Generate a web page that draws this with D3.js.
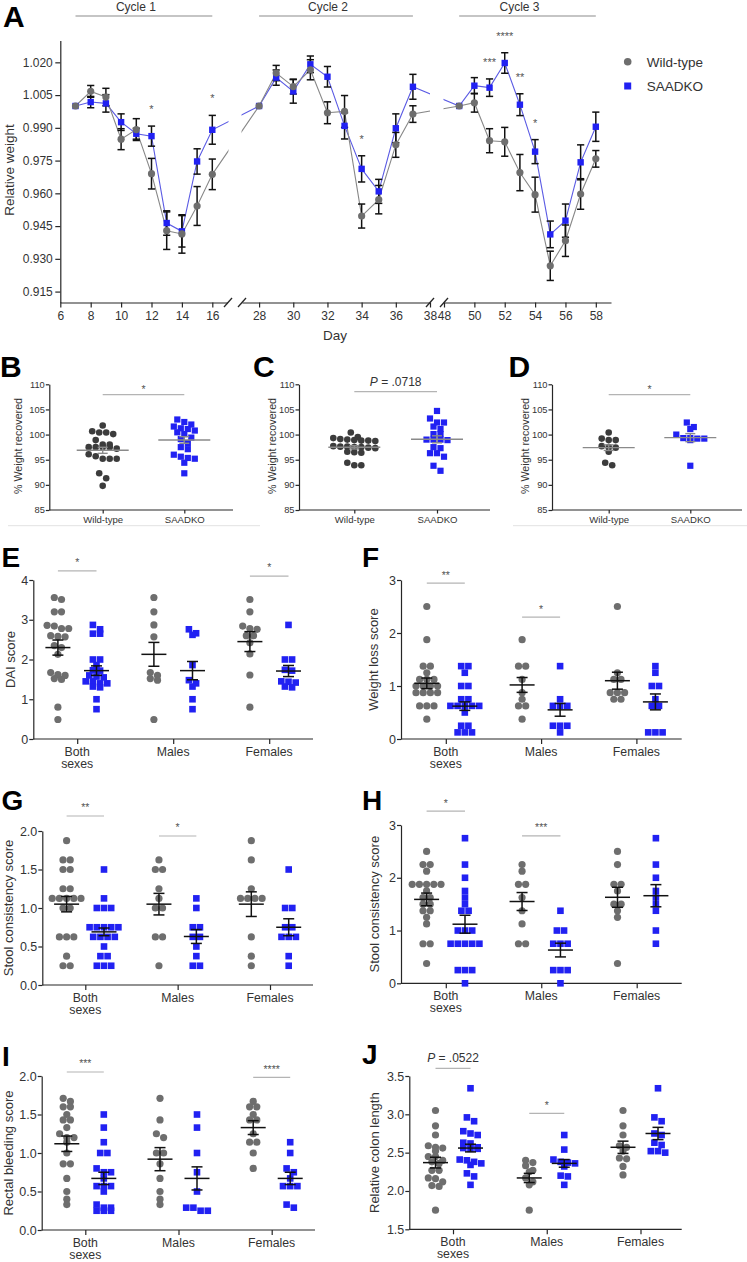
<!DOCTYPE html>
<html><head><meta charset="utf-8">
<script src="https://cdn.jsdelivr.net/npm/d3@7"></script>
<style>
body{margin:0;background:#fff;}
svg{display:block;font-family:"Liberation Sans",Arial,Helvetica,sans-serif;}
</style></head><body>
<svg id="fig" width="747" height="1262"></svg>
<script>
// ================= DATA =================
const groups = ["Wild-type", "SAADKO"];
const sexCategories = ["Both sexes", "Males", "Females"];

// ---- Panel A ----
const daysA = [7,8,9,10,11,12,13,14,15,16, 28,29,30,31,32,33,34,35,36,37, 49,50,51,52,53,54,55,56,57,58];
const wtMeanA = [1.000,1.0067,1.0041,0.9848,0.9892,0.9690,0.9429,0.9414,0.9542,0.9687,
                 1.000,1.0151,1.0089,1.0166,0.9969,0.9975,0.9496,0.9571,0.9822,0.9963,
                 1.000,1.0015,0.9841,0.9836,0.9695,0.9594,0.9268,0.9383,0.9597,0.9758];
const wtSemA  = [0,0.0027,0.0040,0.0048,0.0050,0.0070,0.0086,0.0088,0.0089,0.0070,
                 0,0.0035,0.0034,0.0046,0.0050,0.0073,0.0055,0.0065,0.0057,0.0038,
                 0,0.0043,0.0055,0.0066,0.0083,0.0080,0.0067,0.0072,0.0070,0.0038];
const koMeanA = [1.000,1.0018,1.0012,0.9926,0.9873,0.9862,0.9464,0.9426,0.9746,0.9891,
                 1.000,1.0130,1.0067,1.0191,1.0134,0.9909,0.9712,0.9609,0.9898,1.0088,
                 1.000,1.0093,1.0084,1.0197,1.0006,0.9791,0.9412,0.9475,0.9742,0.9905];
const koSemA  = [0,0.0026,0.0040,0.0038,0.0025,0.0046,0.0056,0.0072,0.0058,0.0066,
                 0,0.0035,0.0054,0.0038,0.0047,0.0060,0.0060,0.0055,0.0066,0.0057,
                 0,0.0037,0.0040,0.0047,0.0050,0.0055,0.0061,0.0076,0.0080,0.0067];
const yTicksA = [0.915,0.930,0.945,0.960,0.975,0.990,1.005,1.020];
const xTicksA1 = [6,8,10,12,14,16];
const xTicksA2 = [28,30,32,34,36,38];
const xTicksA3 = [48,50,52,54,56,58];
const cycleLabels = ["Cycle 1","Cycle 2","Cycle 3"];
const cycleStart = [7,28,49];
const cycleEnd = [16,37,58];
const starDaysA = [12,16,34,51,52,53,54];
const starLabelsA = ["*","*","*","***","****","**","*"];

// ---- Panels B, C, D (% weight recovered) ----
const recTicks = [85,90,95,100,105,110];
const wtB = [101.8,100.65,100.4,100.4,100.1,98.9,98.0,97.5,97.5,97.2,97.5,97.5,98.0,96.1,95.2,95.2,95.2,95.7,92.3,91.3,89.8];
const koB = [103.0,102.5,102.0,101.6,101.25,101.1,100.8,100.45,100.1,99.4,99.1,98.3,97.5,97.1,96.0,95.6,95.35,95.2,94.4,92.3];
const wtC = [100.4,99.5,99.3,99.1,98.9,98.8,98.7,98.8,99.0,97.7,97.6,97.5,97.4,97.3,97.5,97.6,96.6,96.5,96.4,94.4,93.9,93.9];
const koC = [104.7,103.2,102.4,102.4,101.6,101.1,100.1,100.1,99.0,99.0,98.9,99.0,97.5,97.3,96.3,96.3,95.6,93.8,92.8];
const wtD = [100.4,99.2,98.9,98.9,97.7,97.5,96.6,97.4,94.4,93.9];
const koD = [102.4,101.5,101.1,100.0,99.3,99.2,98.9,99.2,99.3,93.8];
const recMeanB = [96.87, 98.93], recSemB = [0.60, 0.66];
const recMeanC = [97.47, 99.06], recSemC = [0.33, 0.70];
const recMeanD = [97.40, 99.39], recSemD = [0.56, 0.80];
const recSigLabels = ["*", "P = .0718", "*"];
const recSigLevels = [107.93, 108.53, 107.93];

// ---- Panel E: DAI score ----
const daiWT = [
  [3.56,3.51,3.20,3.20,2.86,2.78,2.78,2.84,2.60,2.57,2.58,2.35,2.30,2.13,1.67,1.62,1.60,1.50,1.52,0.80,0.49],
  [3.56,3.20,2.87,2.57,1.67,1.52,1.48,1.60,0.49],
  [3.51,3.20,2.84,2.78,2.76,2.60,2.60,2.42,2.14,1.61,0.80]];
const daiKO = [
  [2.87,2.76,2.65,2.65,2.00,2.00,1.86,1.73,1.72,1.60,1.57,1.55,1.45,1.40,1.40,1.45,1.32,1.30,1.00,0.75],
  [2.76,2.62,2.66,1.86,1.40,1.32,1.48,1.00,0.75],
  [2.87,2.00,2.00,1.72,1.74,1.45,1.42,1.44,1.32,1.30]];
const daiMeanWT = [2.30,2.13,2.45], daiSemWT = [0.19,0.30,0.25];
const daiMeanKO = [1.72,1.72,1.71], daiSemKO = [0.12,0.23,0.14];
const daiSigCats = ["Both sexes","Females"], daiSigLabels = ["*","*"], daiSigLevels = [4.23,4.10];

// ---- Panel F: Weight loss score ----
const wlWT = [
  [2.5,1.875,1.375,1.375,1.25,1.125,1.125,1.125,1.0,1.0,1.0,1.0,0.875,0.875,0.875,0.875,0.625,0.625,0.625,0.375],
  [1.875,1.375,1.375,1.125,0.875,0.75,0.625,0.625,0.375],
  [2.5,1.25,1.125,1.125,0.875,0.875,0.875,0.75,0.75]];
const wlKO = [
  [1.375,1.375,1.25,1.0,1.0,0.75,0.75,0.625,0.625,0.625,0.625,0.625,0.5,0.25,0.25,0.125,0.125,0.125],
  [1.375,0.75,0.625,0.625,0.625,0.25,0.25,0.25,0.125],
  [1.375,1.25,1.0,1.0,0.75,0.625,0.625,0.125,0.125,0.125]];
const wlMeanWT = [1.05,1.02,1.10], wlSemWT = [0.10,0.14,0.16];
const wlMeanKO = [0.62,0.55,0.70], wlSemKO = [0.08,0.12,0.15];
const wlSigCats = ["Both sexes","Males"], wlSigLabels = ["**","*"], wlSigLevels = [2.94,2.30];

// ---- Panel G: Stool consistency score ----
const scgWT = [
  [1.875,1.625,1.625,1.5,1.5,1.25,1.25,1.125,1.125,1.125,1.125,1.125,1.0,1.0,0.625,0.625,0.625,0.375,0.25,0.25],
  [1.625,1.5,1.5,1.25,1.125,1.0,1.0,0.625,0.625,0.25],
  [1.875,1.625,1.25,1.125,1.125,1.125,1.125,0.625,0.375,0.25]];
const scgKO = [
  [1.5,1.125,1.0,1.0,1.0,0.75,0.75,0.75,0.75,0.75,0.625,0.625,0.625,0.625,0.5,0.375,0.375,0.25,0.25,0.25],
  [1.125,1.0,0.75,0.75,0.625,0.625,0.5,0.375,0.25,0.25],
  [1.5,1.0,1.0,0.75,0.75,0.625,0.625,0.625,0.375,0.25]];
const scgMeanWT = [1.05,1.05,1.05], scgSemWT = [0.10,0.14,0.16];
const scgMeanKO = [0.69,0.63,0.75], scgSemKO = [0.05,0.09,0.11];
const scgSigCats = ["Both sexes","Males"], scgSigLabels = ["**","*"], scgSigLevels = [2.195,1.935];

// ---- Panel H: Stool consistency score ----
const schWT = [
  [2.5,2.25,2.25,2.125,1.875,1.875,1.875,1.875,1.875,1.75,1.625,1.625,1.5,1.5,1.375,1.375,1.25,1.125,0.75,0.75,0.375],
  [2.25,2.125,1.875,1.875,1.625,1.375,1.125,0.75,0.75],
  [2.5,2.25,1.875,1.875,1.75,1.5,1.5,1.375,1.25,0.375]];
const schKO = [
  [2.75,2.25,2.0,1.75,1.625,1.5,1.375,1.375,1.0,1.0,1.0,0.75,0.75,0.75,0.75,0.75,0.25,0.25,0.25,0.0],
  [1.375,1.0,1.0,0.75,0.75,0.75,0.25,0.25,0.25,0.0],
  [2.75,2.25,2.0,1.75,1.625,1.5,1.375,1.0,0.75]];
const schMeanWT = [1.59,1.55,1.63], schSemWT = [0.12,0.17,0.19];
const schMeanKO = [1.12,0.63,1.66], schSemKO = [0.17,0.13,0.21];
const schSigCats = ["Both sexes","Males"], schSigLabels = ["*","***"], schSigLevels = [3.263,2.795];

// ---- Panel I: Rectal bleeding score ----
const rbWT = [
  [1.71,1.67,1.60,1.60,1.50,1.43,1.43,1.33,1.25,1.20,1.14,1.00,0.86,0.86,0.67,0.50,0.40,0.33,1.20],
  [1.71,1.43,1.25,1.20,1.00,1.00,0.86,0.67,0.50,0.40,0.33],
  [1.67,1.60,1.60,1.50,1.43,1.43,1.25,1.14,1.14,1.00,0.80]];
const rbKO = [
  [1.50,1.33,1.14,1.00,1.00,0.80,0.75,0.75,0.67,0.57,0.57,0.57,0.50,0.33,0.29,0.29,0.25,0.25,0.25],
  [1.50,1.33,1.00,0.75,0.50,0.29,0.25,0.25,0.29],
  [1.14,1.00,0.80,0.75,0.67,0.57,0.57,0.57,0.33,0.29]];
const rbMeanWT = [1.12,0.92,1.33], rbSemWT = [0.10,0.15,0.09];
const rbMeanKO = [0.67,0.67,0.67], rbSemKO = [0.08,0.15,0.08];
const rbSigCats = ["Both sexes","Females"], rbSigLabels = ["***","****"], rbSigLevels = [2.052,1.983];

// ---- Panel J: Relative colon length ----
const clWT = [
  [3.05,2.85,2.73,2.59,2.57,2.56,2.52,2.45,2.45,2.40,2.38,2.36,2.27,2.27,2.17,2.16,2.12,2.07,2.06,1.75],
  [2.37,2.33,2.40,2.27,2.25,2.17,2.12,2.08,1.75],
  [3.05,2.85,2.73,2.59,2.57,2.52,2.43,2.42,2.32,2.21]];
const clKO = [
  [3.34,2.96,2.91,2.78,2.75,2.73,2.63,2.62,2.57,2.56,2.55,2.55,2.41,2.40,2.36,2.34,2.38,2.23,2.19,2.08],
  [2.73,2.54,2.41,2.38,2.37,2.36,2.32,2.19,2.20,2.08],
  [3.34,2.96,2.91,2.75,2.73,2.63,2.60,2.52,2.50,2.52]];
const clMeanWT = [2.37,2.17,2.57], clSemWT = [0.07,0.06,0.08];
const clMeanKO = [2.56,2.36,2.75], clSemKO = [0.05,0.05,0.08];
const clSigCats = ["Both sexes","Males"], clSigLabels = ["P = .0522","*"], clSigLevels = [3.60,3.013];

// ================= DRAWING =================
const svg = d3.select("#fig");
const BLUE = "#2121f2", BLUE_LINE = "#5b5be4";
const GRAY_PT = "#6e6e6e", GRAY_LINE = "#888888", DARK_PT = "#3c3c3c";
const AXIS = "#262626", TXT = "#333333", SIG = "#b4b4b4", STAR = "#555555";

function styleAxis(sel, fs) {
  sel.attr("font-family", null).attr("font-size", null);
  sel.selectAll(".domain, .tick line").attr("stroke", AXIS).attr("stroke-width", 1.2);
  sel.selectAll(".tick text").attr("fill", TXT).attr("font-size", fs);
}
function letter(t, x, y, fs) {
  svg.append("text").attr("x", x).attr("y", y).attr("font-size", fs)
    .attr("font-weight", "bold").attr("fill", "#000").text(t);
}
function yTitle(t, x, y, fs) {
  svg.append("text").attr("transform", `translate(${x},${y}) rotate(-90)`)
    .attr("text-anchor", "middle").attr("font-size", fs).attr("fill", TXT).text(t);
}
function sigText(g, label, x, y, fs) {
  const t = g.append("text").attr("x", x).attr("y", y).attr("text-anchor", "middle").attr("fill", STAR);
  if (label.startsWith("P")) {
    t.attr("font-size", fs + 1.5).attr("fill", TXT);
    t.append("tspan").attr("font-style", "italic").text("P");
    t.append("tspan").text(label.slice(1));
  } else {
    t.attr("font-size", fs).text(label);
  }
}
// GraphPad-like scatter layout: points of similar value share a centred row
function layoutDots(values, yScale, cx, spacing, tol) {
  const pts = values.map(v => ({v, y: yScale(v)})).sort((a, b) => a.y - b.y);
  const rows = [];
  let cur = null;
  pts.forEach(p => {
    if (cur && p.y - cur[0].y < tol) cur.push(p); else { cur = [p]; rows.push(cur); }
  });
  rows.forEach(r => r.forEach((p, i) => { p.x = cx + (i - (r.length - 1) / 2) * spacing; }));
  return pts;
}
function drawDots(g, pts, kind, color, r) {
  if (kind === "circle") {
    g.selectAll(null).data(pts).join("circle").attr("cx", d => d.x).attr("cy", d => d.y)
      .attr("r", r).attr("fill", color);
  } else {
    g.selectAll(null).data(pts).join("rect").attr("x", d => d.x - r).attr("y", d => d.y - r)
      .attr("width", 2 * r).attr("height", 2 * r).attr("fill", color);
  }
}
function meanSem(g, cx, y, m, s, half, cap, color, w) {
  g.append("line").attr("x1", cx - half).attr("x2", cx + half).attr("y1", y(m)).attr("y2", y(m))
    .attr("stroke", color).attr("stroke-width", w);
  g.append("line").attr("x1", cx).attr("x2", cx).attr("y1", y(m - s)).attr("y2", y(m + s))
    .attr("stroke", color).attr("stroke-width", w);
  [m - s, m + s].forEach(v => g.append("line").attr("x1", cx - cap).attr("x2", cx + cap)
    .attr("y1", y(v)).attr("y2", y(v)).attr("stroke", color).attr("stroke-width", w));
}

// ---------- Panel A ----------
(function () {
  const g = svg.append("g");
  const y = d3.scaleLinear().domain([0.91, 1.03]).range([302.5, 40.5]);
  const segs = [
    {dom: [6, 17], rng: [60.3, 227.5], ticks: xTicksA1},
    {dom: [27, 38], rng: [242, 430], ticks: xTicksA2},
    {dom: [48, 59], rng: [444, 611], ticks: xTicksA3}];
  const xs = segs.map(s => d3.scaleLinear().domain(s.dom).range(s.rng));
  const x = d => d <= 17 ? xs[0](d) : (d <= 38 ? xs[1](d) : xs[2](d));

  letter("A", 3, 27, 30);

  g.append("g").attr("transform", "translate(60.3,0)")
    .call(d3.axisLeft(y).tickValues(yTicksA).tickFormat(d3.format(".3f")).tickSize(5).tickSizeOuter(0).tickPadding(2.5))
    .call(styleAxis, 12);
  segs.forEach((s, i) => {
    g.append("g").attr("transform", "translate(0,302.5)")
      .call(d3.axisBottom(xs[i]).tickValues(s.ticks).tickFormat(d3.format("d")).tickSize(5).tickSizeOuter(0).tickPadding(3.5))
      .call(styleAxis, 12);
  });
  [228, 242, 430, 444].forEach(bx => g.append("line")
    .attr("x1", bx - 4).attr("y1", 307).attr("x2", bx + 4).attr("y2", 298)
    .attr("stroke", AXIS).attr("stroke-width", 1.3));

  yTitle("Relative weight", 14, 170, 13.5);
  svg.append("text").attr("x", 335).attr("y", 340).attr("text-anchor", "middle")
    .attr("font-size", 13.5).attr("fill", TXT).text("Day");

  cycleLabels.forEach((c, i) => {
    const x1 = x(cycleStart[i]), x2 = x(cycleEnd[i]);
    g.append("line").attr("x1", x1).attr("x2", x2).attr("y1", 16).attr("y2", 16)
      .attr("stroke", "#8c8c8c").attr("stroke-width", 1.1);
    g.append("text").attr("x", (x1 + x2) / 2 - 8).attr("y", 10.5).attr("text-anchor", "middle")
      .attr("font-size", 12).attr("fill", TXT).text(c);
  });

  const clip = svg.append("defs").append("clipPath").attr("id", "gapclip");
  [[0, 228.5], [241.5, 430], [443.5, 747]].forEach(([a, b]) =>
    clip.append("rect").attr("x", a).attr("y", 0).attr("width", b - a).attr("height", 330));

  const wt = daysA.map((d, i) => ({d, m: wtMeanA[i], s: wtSemA[i]}));
  const ko = daysA.map((d, i) => ({d, m: koMeanA[i], s: koSemA[i]}));
  const line = d3.line().x(p => x(p.d)).y(p => y(p.m));
  g.append("path").attr("d", line(ko)).attr("fill", "none").attr("stroke", BLUE_LINE)
    .attr("stroke-width", 1.1).attr("clip-path", "url(#gapclip)");
  g.append("path").attr("d", line(wt)).attr("fill", "none").attr("stroke", GRAY_LINE)
    .attr("stroke-width", 1.1).attr("clip-path", "url(#gapclip)");

  const eb = g.append("g").attr("stroke", "#111").attr("stroke-width", 1.5);
  [ko, wt].forEach(ser => ser.filter(p => p.s > 0).forEach(p => {
    const cx = x(p.d);
    eb.append("line").attr("x1", cx).attr("x2", cx).attr("y1", y(p.m - p.s)).attr("y2", y(p.m + p.s));
    [p.m - p.s, p.m + p.s].forEach(v => eb.append("line").attr("x1", cx - 3.6).attr("x2", cx + 3.6)
      .attr("y1", y(v)).attr("y2", y(v)));
  }));
  g.selectAll(null).data(ko).join("rect").attr("x", p => x(p.d) - 3.2).attr("y", p => y(p.m) - 3.2)
    .attr("width", 6.4).attr("height", 6.4).attr("fill", BLUE);
  g.selectAll(null).data(wt).join("circle").attr("cx", p => x(p.d)).attr("cy", p => y(p.m))
    .attr("r", 3.6).attr("fill", GRAY_PT);

  starDaysA.forEach((d, i) => {
    const k = daysA.indexOf(d);
    const top = Math.min(y(wtMeanA[k] + wtSemA[k]), y(koMeanA[k] + koSemA[k]));
    g.append("text").attr("x", x(d)).attr("y", top - 19 + 6).attr("text-anchor", "middle")
      .attr("font-size", 11).attr("fill", STAR).text(starLabelsA[i]);
  });

  g.append("circle").attr("cx", 627.7).attr("cy", 61.7).attr("r", 3.8).attr("fill", GRAY_PT);
  g.append("rect").attr("x", 624.2).attr("y", 82.5).attr("width", 7).attr("height", 7).attr("fill", BLUE);
  g.append("text").attr("x", 646.7).attr("y", 66.5).attr("font-size", 13.5).attr("fill", TXT).text(groups[0]);
  g.append("text").attr("x", 646.7).attr("y", 90.7).attr("font-size", 13.5).attr("fill", TXT).text(groups[1]);
})();

// ---------- Panels B, C, D ----------
function recoveryPanel(cfg) {
  const g = svg.append("g");
  const y = d3.scaleLinear().domain([85, 110]).range([510, 384.3]);
  const x = d3.scalePoint().domain(groups).range(cfg.xr);
  letter(cfg.letter, cfg.lx, 377, 30);
  g.append("g").attr("transform", `translate(${cfg.axisX},0)`)
    .call(d3.axisLeft(y).tickValues(recTicks).tickSize(3.5).tickSizeOuter(0).tickPadding(1))
    .call(styleAxis, 9.3);
  const xa = g.append("g").attr("transform", "translate(0,510)")
    .call(d3.axisBottom(x).tickSize(3.5).tickSizeOuter(0).tickPadding(2.5))
    .call(styleAxis, 9.6);
  xa.select(".domain").attr("d", `M${cfg.axisX},0H${cfg.xEnd}`);
  yTitle("% Weight recovered", cfg.tx, 446, 10.7);

  const wtPts = layoutDots(cfg.wt, y, x(groups[0]), 7, 5.5);
  const koPts = layoutDots(cfg.ko, y, x(groups[1]), 7, 5.5);
  drawDots(g, wtPts, "circle", DARK_PT, 3.3);
  drawDots(g, koPts, "rect", BLUE, 3.1);
  groups.forEach((gr, i) => meanSem(g, x(gr), y, cfg.mean[i], cfg.sem[i], 26, 5, "#8a8a8a", 1.4));

  const ly = y(cfg.sigLevel);
  g.append("line").attr("x1", x(groups[0])).attr("x2", x(groups[1])).attr("y1", ly).attr("y2", ly)
    .attr("stroke", SIG).attr("stroke-width", 1.3);
  sigText(g, cfg.sigLabel, (x(groups[0]) + x(groups[1])) / 2, ly - (cfg.sigLabel.startsWith("P") ? 5.7 : 1.5), 10.5);
  if (cfg.sep) g.append("line").attr("x1", cfg.sep[0]).attr("x2", cfg.sep[1]).attr("y1", 525.7).attr("y2", 525.7)
    .attr("stroke", "#e2e2e2").attr("stroke-width", 1);
}
recoveryPanel({letter: "B", lx: 0, axisX: 49.3, xEnd: 233, xr: [102.7, 184.3], tx: 22,
  wt: wtB, ko: koB, mean: recMeanB, sem: recSemB, sigLabel: recSigLabels[0], sigLevel: recSigLevels[0], sep: [8, 260]});
recoveryPanel({letter: "C", lx: 253, axisX: 299, xEnd: 490, xr: [354.3, 437], tx: 276,
  wt: wtC, ko: koC, mean: recMeanC, sem: recSemC, sigLabel: recSigLabels[1], sigLevel: recSigLevels[1]});
recoveryPanel({letter: "D", lx: 508.5, axisX: 552, xEnd: 742, xr: [608.7, 690.3], tx: 528.5,
  wt: wtD, ko: koD, mean: recMeanD, sem: recSemD, sigLabel: recSigLabels[2], sigLevel: recSigLevels[2], sep: [513, 747]});

// ---------- Panels E - J ----------
function scorePanel(cfg) {
  const g = svg.append("g");
  const y = d3.scaleLinear().domain(cfg.domain).range(cfg.yr);
  const xc = d3.scalePoint().domain(sexCategories).range(cfg.cr);
  const xg = d3.scalePoint().domain(groups).range([-cfg.off, cfg.off]);
  letter(cfg.letter, cfg.lx, cfg.ly, 28);
  g.append("g").attr("transform", `translate(${cfg.axisX},0)`)
    .call(d3.axisLeft(y).tickValues(cfg.ticks).tickFormat(d3.format(cfg.fmt)).tickSize(4).tickSizeOuter(0).tickPadding(1))
    .call(styleAxis, 12.5);
  const xa = g.append("g").attr("transform", `translate(0,${cfg.yr[0]})`)
    .call(d3.axisBottom(xc).tickSize(5).tickSizeOuter(0).tickFormat(""))
    .call(styleAxis, 12.5);
  xa.select(".domain").attr("d", `M${cfg.axisX},0H${cfg.xEnd}`);
  sexCategories.forEach(c => {
    c.split(" ").forEach((w, k) => g.append("text").attr("x", xc(c)).attr("y", cfg.yr[0] + 16.5 + 12.5 * k)
      .attr("text-anchor", "middle").attr("font-size", 12.3).attr("fill", TXT).text(w));
  });
  yTitle(cfg.title, cfg.tx, (cfg.yr[0] + cfg.yr[1]) / 2, 13);

  sexCategories.forEach((c, i) => {
    const wtPts = layoutDots(cfg.wt[i], y, xc(c) + xg(groups[0]), 7.2, 5);
    const koPts = layoutDots(cfg.ko[i], y, xc(c) + xg(groups[1]), 7.2, 5);
    drawDots(g, wtPts, "circle", GRAY_PT, 3.6);
    drawDots(g, koPts, "rect", BLUE, 3.3);
  });
  sexCategories.forEach((c, i) => {
    meanSem(g, xc(c) + xg(groups[0]), y, cfg.mWT[i], cfg.sWT[i], 12.5, 5.5, "#111", 1.5);
    meanSem(g, xc(c) + xg(groups[1]), y, cfg.mKO[i], cfg.sKO[i], 12.5, 5.5, "#111", 1.5);
  });
  cfg.sigCats.forEach((c, i) => {
    const x1 = xc(c) + xg(groups[0]), x2 = xc(c) + xg(groups[1]);
    const ly = y(cfg.sigLevels[i]);
    g.append("line").attr("x1", x1).attr("x2", x2).attr("y1", ly).attr("y2", ly)
      .attr("stroke", SIG).attr("stroke-width", 1.2);
    const lab = cfg.sigLabels[i];
    sigText(g, lab, (x1 + x2) / 2, ly - (lab.startsWith("P") ? 6 : 4.6), 10.5);
  });
}
scorePanel({letter: "E", lx: 1.5, ly: 567, axisX: 33.3, xEnd: 313, cr: [77.2, 269.2], off: 19.3,
  yr: [739, 580], domain: [0, 4], ticks: [0, 1, 2, 3, 4], fmt: "d", title: "DAI score", tx: 14.5,
  wt: daiWT, ko: daiKO, mWT: daiMeanWT, sWT: daiSemWT, mKO: daiMeanKO, sKO: daiSemKO,
  sigCats: daiSigCats, sigLabels: daiSigLabels, sigLevels: daiSigLevels});
scorePanel({letter: "F", lx: 362, ly: 567, axisX: 401, xEnd: 681.7, cr: [445.8, 636.4], off: 19,
  yr: [739, 580], domain: [0, 3], ticks: [0, 1, 2, 3], fmt: "d", title: "Weight loss score", tx: 378,
  wt: wlWT, ko: wlKO, mWT: wlMeanWT, sWT: wlSemWT, mKO: wlMeanKO, sKO: wlSemKO,
  sigCats: wlSigCats, sigLabels: wlSigLabels, sigLevels: wlSigLevels});
scorePanel({letter: "G", lx: 1.5, ly: 810, axisX: 42.3, xEnd: 313, cr: [85.3, 270], off: 18.7,
  yr: [985, 831], domain: [0, 2], ticks: [0, 0.5, 1, 1.5, 2], fmt: ".1f", title: "Stool consistency score", tx: 13,
  wt: scgWT, ko: scgKO, mWT: scgMeanWT, sWT: scgSemWT, mKO: scgMeanKO, sKO: scgSemKO,
  sigCats: scgSigCats, sigLabels: scgSigLabels, sigLevels: scgSigLevels});
scorePanel({letter: "H", lx: 362, ly: 810, axisX: 401, xEnd: 681.7, cr: [445.8, 636.7], off: 19.2,
  yr: [983.3, 825], domain: [0, 3], ticks: [0, 1, 2, 3], fmt: "d", title: "Stool consistency score", tx: 379,
  wt: schWT, ko: schKO, mWT: schMeanWT, sWT: schSemWT, mKO: schMeanKO, sKO: schSemKO,
  sigCats: schSigCats, sigLabels: schSigLabels, sigLevels: schSigLevels});
scorePanel({letter: "I", lx: 2, ly: 1066, axisX: 41.7, xEnd: 315, cr: [85.3, 271.7], off: 18.5,
  yr: [1230, 1076], domain: [0, 2], ticks: [0, 0.5, 1, 1.5, 2], fmt: ".1f", title: "Rectal bleeding score", tx: 13,
  wt: rbWT, ko: rbKO, mWT: rbMeanWT, sWT: rbSemWT, mKO: rbMeanKO, sKO: rbSemKO,
  sigCats: rbSigCats, sigLabels: rbSigLabels, sigLevels: rbSigLevels});
scorePanel({letter: "J", lx: 362, ly: 1064, axisX: 409.3, xEnd: 681.7, cr: [453, 640.5], off: 17.5,
  yr: [1229.3, 1076], domain: [1.5, 3.5], ticks: [1.5, 2, 2.5, 3, 3.5], fmt: ".1f", title: "Relative colon length", tx: 379,
  wt: clWT, ko: clKO, mWT: clMeanWT, sWT: clSemWT, mKO: clMeanKO, sKO: clSemKO,
  sigCats: clSigCats, sigLabels: clSigLabels, sigLevels: clSigLevels});
</script>
</body></html>
